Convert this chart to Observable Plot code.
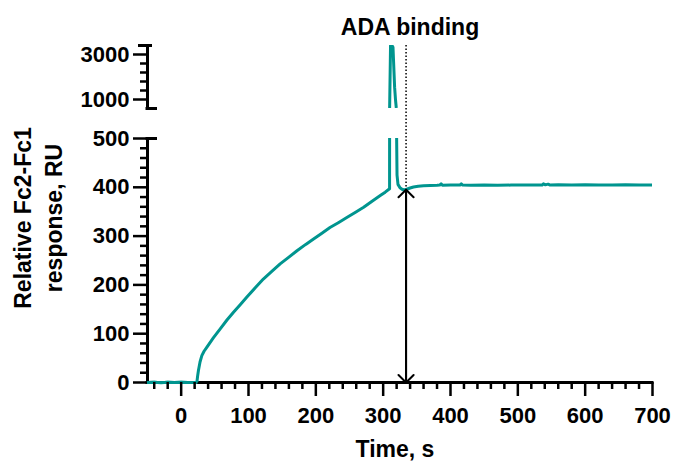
<!DOCTYPE html>
<html><head><meta charset="utf-8">
<script src="https://cdn.jsdelivr.net/npm/d3@7"></script>
<script src="https://cdn.jsdelivr.net/npm/@observablehq/plot@0.6"></script>
<style>
html,body{margin:0;padding:0;background:#fff;}
#chart{position:relative;width:673px;height:462px;}
#chart svg{position:absolute;left:0;top:0;font-family:"Liberation Sans",Arial,sans-serif;}
</style></head><body><div id="chart"></div>
<script>
// ---- data ----
const timeS = [-50,-40,-30,-20,-10,0,10,20,22.5,
  23.5,24.5,25.7,28,30.7,34,38,48,58,68,77.7,88,97.6,110,122,135,147,160,172,185,196.6,209,221,234,246,259,271,283,295.7,303,309.5,
  311,314.6,317,318.3,319.4,320,320.6,322,325,328,331,335,340,345,352,360,370,380,384,386,388,400,414,416,418,430,450,470,490,510,536,538,541,545,548,560,580,600,620,640,660,680,700];
const responseRU = [0,0.5,-0.3,0.3,0,0.4,-0.2,0.2,0,
  2,14,25,42,55,64,72,92,110,128,144,160,175,194,212,228,243,257,270,283,294,306,317.6,328,338,349,359,371,383,390,397,
  3500,3325,1548,1000,650,500,425,406,399,396,394.5,396,398.5,400.5,402,403,403.5,404,404.5,407,404,404.5,404.5,407,404.5,404,404.5,404,404.5,404.5,404.5,407,405,406.5,404.5,405,404.5,405,404.5,404.5,405,404.5,404.5];
const xMajorTicks = [0,100,200,300,400,500,600,700];
const xMinorTicks = [-40,-20,20,40,60,80,120,140,160,180,220,240,260,280,320,340,360,380,420,440,460,480,520,540,560,580,620,640,660,680];
const yLowerMajor = [0,100,200,300,400,500];
const yLowerMinor = [20,40,60,80,120,140,160,180,220,240,260,280,320,340,360,380,420,440,460,480];
const yUpperMajor = [1000,3000];
const yUpperMinor = [1400,1800,2200,2600];
const xDomain = [-50,700];
const yLowerDomain = [0,500];
const yUpperDomain = [600,3400];
const markerTime = 334;       // ADA binding read point
const markerResponse = 395;
const titleText = "ADA binding";
const xLabel = "Time, s";
const yLabelLines = ["Relative Fc2-Fc1","response, RU"];

const teal = "#00958f";
const data = timeS.map((t,i)=>({t, r: responseRU[i]}));
const baseline = data.filter(d => d.t <= 23);
const fmt = d => String(d);
const baseStyle = {background:"transparent", fontSize:"22px", fontWeight:"bold", color:"black", overflow:"visible"};
const upperFrame = {width:673, height:462, marginLeft:147, marginRight:21, marginTop:45, marginBottom:354};
const lowerFrame = {width:673, height:462, marginLeft:147, marginRight:21, marginTop:138, marginBottom:80};
const ink = {stroke:"black", strokeWidth:2.5};
const yTicks = (vals, len) => Plot.ruleY(vals, {x1:xDomain[0], x2:xDomain[0], insetLeft:-len, insetRight:0, ...ink});
const xTicks = (vals, len) => Plot.ruleX(vals, {y1:yLowerDomain[0], y2:yLowerDomain[0], insetTop:0, insetBottom:-len, ...ink});

const upper = Plot.plot({
  ...upperFrame, style:baseStyle,
  x:{domain:xDomain, label:null, axis:null},
  y:{domain:yUpperDomain, label:null},
  marks:[
    Plot.axisY({ticks:yUpperMajor, tickSize:0, tickPadding:18, tickFormat:fmt, label:null}),
    Plot.ruleX([xDomain[0]], {stroke:"black", strokeWidth:3}),
    Plot.ruleY([yUpperDomain[1]], {x1:xDomain[0], x2:xDomain[0], insetLeft:-9, insetRight:-5, stroke:"black", strokeWidth:3}),
    Plot.ruleY([yUpperDomain[0]], {x1:xDomain[0], x2:xDomain[0], insetLeft:-1.5, insetRight:-10, stroke:"black", strokeWidth:3}),
    Plot.line(data, {x:"t", y:"r", stroke:teal, strokeWidth:3, clip:true})
  ]
});

const lower = Plot.plot({
  ...lowerFrame, style:baseStyle,
  x:{domain:xDomain, label:null},
  y:{domain:yLowerDomain, label:null},
  marks:[
    Plot.axisY({ticks:yLowerMajor, tickSize:0, tickPadding:18, tickFormat:fmt, label:null}),
    Plot.axisX({ticks:xMajorTicks, tickSize:0, tickPadding:25, tickFormat:fmt, label:null}),
    Plot.ruleX([xDomain[0]], {stroke:"black", strokeWidth:3}),
    Plot.ruleY([yLowerDomain[0]], {stroke:"black", strokeWidth:3, insetLeft:-1.5, insetRight:-1.5}),
    Plot.ruleY([yLowerDomain[1]], {x1:xDomain[0], x2:xDomain[0], insetLeft:-1.5, insetRight:-10, stroke:"black", strokeWidth:3}),
    Plot.ruleX([markerTime], {y1:yLowerDomain[1], y2:markerResponse, insetTop:-93, stroke:"black", strokeWidth:1.5, strokeDasharray:"1.5,2"}),
    Plot.line(data, {x:"t", y:"r", stroke:teal, strokeWidth:3, clip:true}),
    Plot.line(baseline, {x:"t", y:"r", stroke:teal, strokeWidth:3}),
    Plot.arrow([{t:markerTime, lo:0, hi:markerResponse}], {x1:"t", x2:"t", y1:"lo", y2:"hi", stroke:"black", strokeWidth:2, headLength:8, headAngle:90}),
    Plot.arrow([{t:markerTime, lo:0, hi:markerResponse}], {x1:"t", x2:"t", y1:"hi", y2:"lo", stroke:"black", strokeWidth:2, headLength:8, headAngle:90})
  ]
});

// tick marks in their own overlay plots (same frames and scales)
const upperTicks = Plot.plot({
  ...upperFrame, style:{background:"transparent"},
  x:{domain:xDomain, axis:null}, y:{domain:yUpperDomain, axis:null},
  marks:[yTicks(yUpperMajor, 14), yTicks(yUpperMinor, 7)]
});
const lowerTicks = Plot.plot({
  ...lowerFrame, style:{background:"transparent"},
  x:{domain:xDomain, axis:null}, y:{domain:yLowerDomain, axis:null},
  marks:[yTicks(yLowerMajor, 14), yTicks(yLowerMinor, 7), xTicks(xMajorTicks, 14), xTicks(xMinorTicks, 7)]
});

const host = document.getElementById("chart");
host.appendChild(upper);
host.appendChild(lower);
host.appendChild(upperTicks);
host.appendChild(lowerTicks);

const sel = d3.select(lower);
const addText = (x,y,s,size,rot) => {
  const t = sel.append("text").attr("x",x).attr("y",y).attr("text-anchor","middle")
    .attr("font-family","Liberation Sans, Arial, sans-serif").attr("font-weight","bold").attr("font-size",size).attr("fill","black").text(s);
  if (rot) t.attr("transform",`rotate(-90 ${x} ${y})`);
  return t;
};
addText(410, 34.5, titleText, 23);
addText(395, 457, xLabel, 23);
addText(31, 218, yLabelLines[0], 23, true);
addText(62, 218, yLabelLines[1], 23, true);
</script></body></html>
